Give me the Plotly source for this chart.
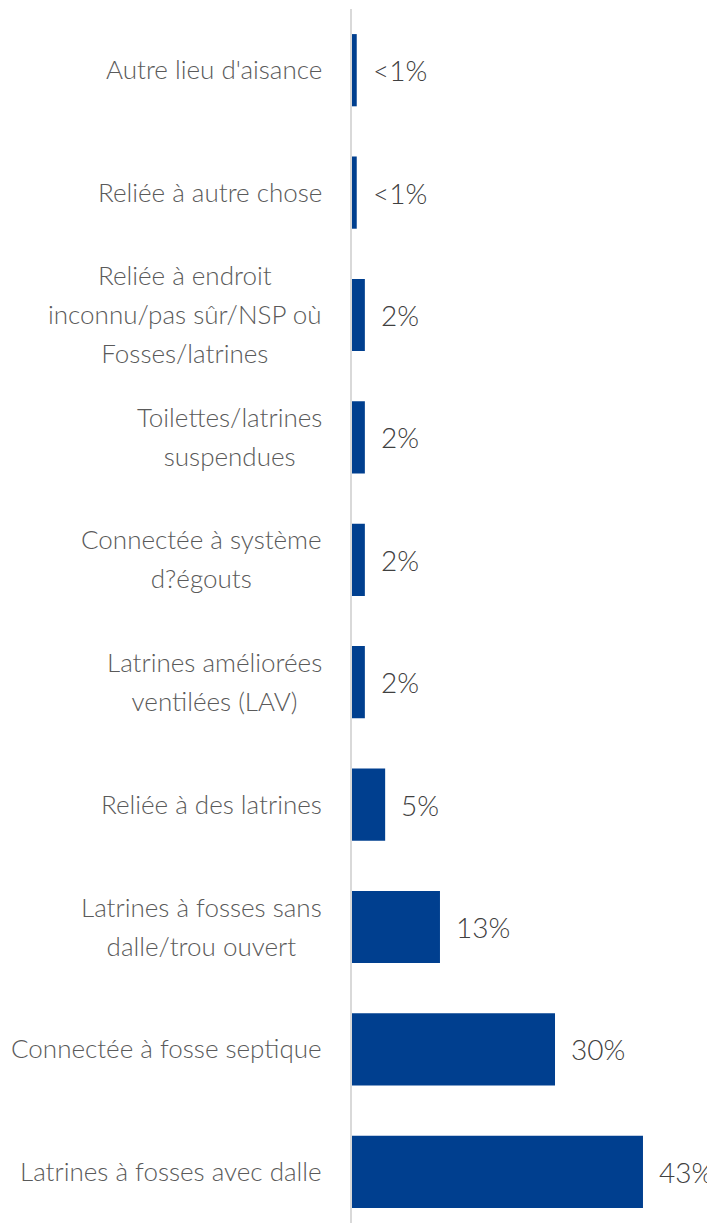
import plotly.graph_objects as go

categories = [
    "Autre lieu d'aisance",
    "Reliée à autre chose",
    "Reliée à endroit<br>inconnu/pas sûr/NSP où<br>Fosses/latrines",
    "Toilettes/latrines<br>suspendues",
    "Connectée à système<br>d?égouts",
    "Latrines améliorées<br>ventilées (LAV)",
    "Reliée à des latrines",
    "Latrines à fosses sans<br>dalle/trou ouvert",
    "Connectée à fosse septique",
    "Latrines à fosses avec dalle",
]
values = [0.7, 0.7, 1.9, 1.9, 1.9, 1.9, 4.9, 13, 30, 43]
value_labels = ["<1%", "<1%", "2%", "2%", "2%", "2%", "5%", "13%", "30%", "43%"]

BAR = "#003F8F"
FONT = "Lato"
BODY = 8  # default page body margin offset
H = 1223 - BODY
PX_PER_ROW = 122.4

fig = go.Figure(go.Bar(
    x=values, y=categories, orientation="h",
    marker=dict(color=BAR, line=dict(width=0)),
    hoverinfo="skip",
))

ann = []
for c, v, t in zip(categories, values, value_labels):
    ann.append(dict(x=v, y=c, xref="x", yref="y", text=t, showarrow=False,
                    xanchor="left", yanchor="middle", xshift=14,
                    font=dict(family=FONT, size=28, color="#404040", weight=300)))
    styled = "<br>".join('<span style="font-size:26px">%s</span>' % ln for ln in c.split("<br>"))
    ann.append(dict(x=0, y=c, xref="paper", yref="y", text=styled, showarrow=False,
                    xanchor="right", yanchor="middle", xshift=-28, yshift=1,
                    align="center",
                    font=dict(family=FONT, size=30, color="#5a5a5a", weight=300)))

top = 9 - BODY
fig.update_layout(
    width=715 - BODY, height=H,
    margin=dict(l=352 - BODY, r=0, t=top, b=0),
    paper_bgcolor="white", plot_bgcolor="white",
    bargap=0.41,
    showlegend=False,
    annotations=ann,
    xaxis=dict(range=[0, (715 - 352) / 6.767], visible=False, fixedrange=True),
    yaxis=dict(categoryorder="array", categoryarray=categories,
               range=[-0.5 + (H - top) / PX_PER_ROW, -0.5], showticklabels=False, ticks="",
               showline=True, linecolor="#d9d9d9", linewidth=2,
               showgrid=False, zeroline=False),
)

fig.write_html("out.html")
